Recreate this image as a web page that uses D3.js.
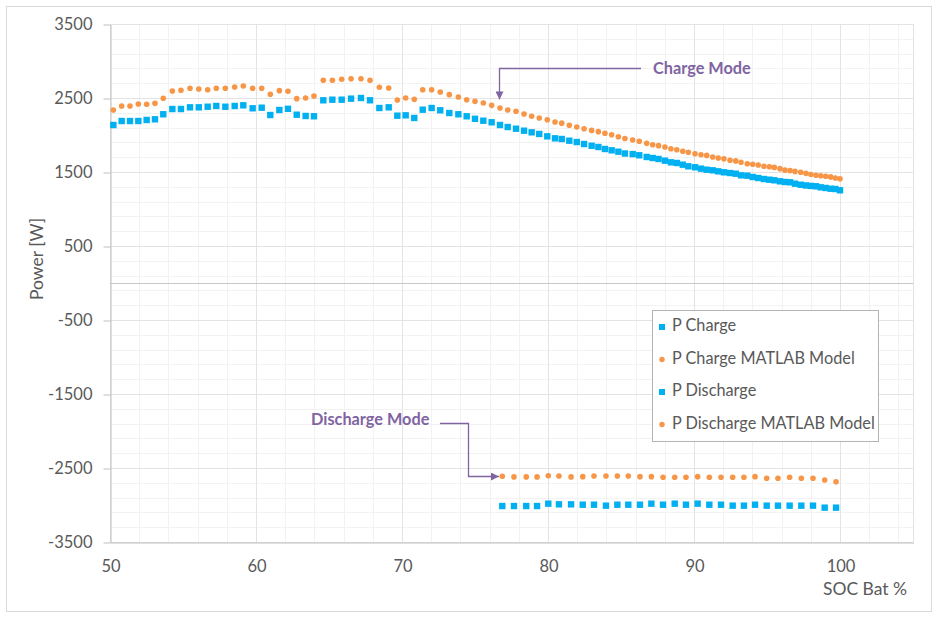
<!DOCTYPE html>
<html>
<head>
<meta charset="utf-8">
<script src="https://cdn.jsdelivr.net/npm/d3@7"></script>
<style>
  html, body { margin: 0; padding: 0; background: #ffffff; }
  svg { display: block; font-family: Lato, "Open Sans", sans-serif; }
</style>
</head>
<body>
<svg id="chart" width="937" height="617"></svg>
<script>
// ---------------- DATA ----------------
const socCharge = [50.23,50.80,51.37,51.94,52.51,53.08,53.65,54.27,54.86,55.48,
  56.08,56.69,57.28,57.90,58.54,59.13,59.77,60.39,60.98,61.60,
  62.19,62.79,63.40,63.97,64.61,65.23,65.87,66.51,67.19,67.81,
  68.45,69.09,69.68,70.25,70.84,71.42,72.03,72.62,73.24,73.86,
  74.43,75.00,75.57,76.14,76.71,77.24,77.81,78.36,78.88,79.40,
  79.95,80.48,80.94,81.46,81.97,82.47,82.99,83.45,83.90,84.36,
  84.82,85.27,85.80,86.25,86.76,87.17,87.57,88.01,88.42,88.82,
  89.23,89.61,90.07,90.48,90.87,91.28,91.66,92.05,92.47,92.86,
  93.22,93.65,94.02,94.40,94.79,95.16,95.50,95.89,96.23,96.58,
  96.92,97.31,97.67,98.01,98.36,98.68,99.02,99.36,99.68,100.0];

const pCharge = [2135,2189,2189,2189,2203,2212,2280,2351,2351,2374,
  2374,2382,2392,2382,2392,2401,2361,2369,2270,2338,
  2354,2274,2257,2253,2469,2477,2477,2491,2500,2469,
  2365,2374,2261,2266,2230,2342,2365,2334,2297,2280,
  2253,2219,2193,2172,2135,2108,2085,2058,2036,2014,
  1982,1955,1946,1923,1905,1878,1855,1838,1811,1793,
  1774,1750,1742,1726,1703,1689,1676,1653,1631,1622,
  1599,1577,1564,1545,1531,1523,1509,1496,1486,1477,
  1455,1450,1432,1419,1405,1396,1388,1374,1365,1361,
  1342,1328,1318,1312,1307,1293,1284,1274,1270,1253];

const pChargeModel = [2338,2392,2392,2419,2415,2428,2496,2595,2604,2631,
  2622,2612,2631,2631,2649,2662,2631,2631,2550,2599,
  2592,2491,2500,2527,2739,2739,2753,2761,2761,2739,
  2645,2635,2473,2500,2482,2612,2612,2581,2545,2514,
  2477,2455,2432,2401,2365,2338,2320,2284,2253,2230,
  2207,2175,2160,2131,2108,2085,2062,2045,2023,2004,
  1977,1952,1932,1915,1888,1869,1856,1838,1815,1801,
  1780,1766,1747,1734,1724,1703,1689,1678,1658,1650,
  1631,1610,1605,1595,1577,1570,1562,1545,1525,1518,
  1508,1496,1482,1466,1456,1450,1442,1434,1419,1409];

const socDischarge = [76.87,77.67,78.51,79.25,80.02,80.75,81.58,82.38,83.15,83.97,
  84.75,85.50,86.30,87.08,87.88,88.68,89.45,90.25,91.05,91.85,
  92.65,93.42,94.18,94.98,95.75,96.55,97.35,98.15,98.95,99.73];

const pDischarge = [-3014,-3014,-3014,-3014,-2982,-2991,-2991,-2996,-2996,-3009,
  -2996,-2996,-2996,-2982,-2996,-2982,-2996,-2982,-2996,-2996,
  -3009,-3009,-2996,-3009,-3009,-3009,-3009,-3009,-3036,-3036];

const pDischargeModel = [-2612,-2620,-2620,-2620,-2605,-2608,-2620,-2617,-2608,-2608,
  -2608,-2608,-2617,-2617,-2626,-2626,-2626,-2617,-2626,-2626,
  -2626,-2626,-2617,-2639,-2639,-2626,-2639,-2639,-2662,-2685];

const xTicks = [50, 60, 70, 80, 90, 100];
const yTicks = [-3500, -2500, -1500, -500, 500, 1500, 2500, 3500];
const seriesNames = ["P Charge", "P Charge MATLAB Model", "P Discharge", "P Discharge MATLAB Model"];
const seriesColors = ["#00B0F0", "#F79646", "#00B0F0", "#F79646"];
const seriesShapes = ["square", "circle", "square", "circle"];
const xTitle = "SOC Bat %";
const yTitle = "Power [W]";
const noteCharge = "Charge Mode";
const noteDischarge = "Discharge Mode";

// ---------------- LAYOUT ----------------
const W = 937, H = 617;
const plot = { left: 110, right: 913, top: 24, bottom: 542 };
const svg = d3.select("#chart");
const fmt = d => String(d);   // plain hyphen-minus like the reference

const x = d3.scaleLinear().domain([50, 105]).range([plot.left, plot.right]);
const y = d3.scaleLinear().domain([-3500, 3500]).range([plot.bottom, plot.top]);

// chart border
svg.append("rect")
  .attr("x", 6.5).attr("y", 6.5).attr("width", W - 12).attr("height", H - 12)
  .attr("fill", "#fff").attr("stroke", "#D9D9D9").attr("stroke-width", 1);

// minor gridlines
const g = svg.append("g");
const xMinor = d3.range(50, 105.001, 2);
const yMinor = d3.range(-3500, 3500.001, 200);
g.selectAll(".xminor").data(xMinor).join("line")
  .attr("x1", d => Math.round(x(d)) + 0.5).attr("x2", d => Math.round(x(d)) + 0.5)
  .attr("y1", plot.top).attr("y2", plot.bottom)
  .attr("stroke", "#F2F2F2").attr("stroke-width", 1);
g.selectAll(".yminor").data(yMinor).join("line")
  .attr("y1", d => Math.round(y(d)) + 0.5).attr("y2", d => Math.round(y(d)) + 0.5)
  .attr("x1", plot.left).attr("x2", plot.right)
  .attr("stroke", "#F2F2F2").attr("stroke-width", 1);
// right boundary line
g.append("line")
  .attr("x1", Math.round(x(105)) + 0.5).attr("x2", Math.round(x(105)) + 0.5)
  .attr("y1", plot.top).attr("y2", plot.bottom)
  .attr("stroke", "#E3E3E3");
// major gridlines
g.selectAll(".xmajor").data(d3.range(50, 105, 10)).join("line")
  .attr("x1", d => Math.round(x(d)) + 0.5).attr("x2", d => Math.round(x(d)) + 0.5)
  .attr("y1", plot.top).attr("y2", plot.bottom)
  .attr("stroke", "#E3E3E3").attr("stroke-width", 1);
g.selectAll(".ymajor").data(yTicks).join("line")
  .attr("y1", d => Math.round(y(d)) + 0.5).attr("y2", d => Math.round(y(d)) + 0.5)
  .attr("x1", plot.left).attr("x2", plot.right)
  .attr("stroke", "#E3E3E3").attr("stroke-width", 1);

// zero line
g.append("line")
  .attr("x1", plot.left).attr("x2", plot.right)
  .attr("y1", Math.round(y(0)) + 0.5).attr("y2", Math.round(y(0)) + 0.5)
  .attr("stroke", "#C8C8C8").attr("stroke-width", 1);

// Y axis
const yAxis = d3.axisLeft(y).tickValues(yTicks).tickSizeInner(7).tickSizeOuter(0).tickPadding(11)
  .tickFormat(fmt);
const ya = svg.append("g").attr("transform", `translate(${plot.left + 0.5},0.5)`).call(yAxis);
ya.select(".domain").attr("stroke", "#BFBFBF");
ya.selectAll(".tick line").attr("stroke", "#BFBFBF");
ya.selectAll(".tick text").attr("fill", "#595959").style("font-size", "16.5px").style("font-family", "Lato");

// X axis
const xAxis = d3.axisBottom(x).tickValues(xTicks).tickSize(0).tickPadding(18).tickFormat(fmt);
const xa = svg.append("g").attr("transform", `translate(0.5,${plot.bottom + 0.5})`).call(xAxis);
xa.select(".domain").attr("stroke", "#BFBFBF");
xa.selectAll(".tick text").attr("fill", "#595959").style("font-size", "16.5px").style("font-family", "Lato");

// Axis titles
svg.append("text")
  .attr("transform", `translate(39,${259}) rotate(-90)`)
  .attr("text-anchor", "middle").attr("dominant-baseline", "middle")
  .attr("fill", "#595959").style("font-size", "17.5px").text(yTitle);
svg.append("text")
  .attr("x", 865).attr("y", 591)
  .attr("text-anchor", "middle").attr("dominant-baseline", "middle")
  .attr("fill", "#595959").style("font-size", "17.5px").text(xTitle);

// ---------------- SERIES ----------------
const allSeries = [
  { soc: socCharge, p: pCharge },
  { soc: socCharge, p: pChargeModel },
  { soc: socDischarge, p: pDischarge },
  { soc: socDischarge, p: pDischargeModel }
];
const sqSize = 6.4, cR = 2.8;
allSeries.forEach((s, i) => {
  const pts = s.soc.map((v, k) => [v, s.p[k]]);
  const layer = svg.append("g");
  if (seriesShapes[i] === "square") {
    layer.selectAll("rect").data(pts).join("rect")
      .attr("x", d => x(d[0]) - sqSize / 2).attr("y", d => y(d[1]) - sqSize / 2)
      .attr("width", sqSize).attr("height", sqSize)
      .attr("fill", seriesColors[i]);
  } else {
    layer.selectAll("circle").data(pts).join("circle")
      .attr("cx", d => x(d[0])).attr("cy", d => y(d[1])).attr("r", cR)
      .attr("fill", seriesColors[i]);
  }
});

// ---------------- ANNOTATIONS ----------------
const purple = "#8064A2";
const defs = svg.append("defs");
defs.append("marker").attr("id", "arrow").attr("viewBox", "0 0 10 10")
  .attr("refX", 10).attr("refY", 5).attr("markerWidth", 8).attr("markerHeight", 8)
  .attr("markerUnits", "userSpaceOnUse").attr("orient", "auto")
  .append("path").attr("d", "M0,0 L10,5 L0,10 Z").attr("fill", purple);

// Charge Mode
svg.append("text").attr("x", 653).attr("y", 70).attr("dominant-baseline", "middle")
  .attr("fill", purple).style("font-weight", "bold").style("font-size", "16.3px").text(noteCharge);
const cx0 = Math.round(x(76.66)) + 0.5;
svg.append("path")
  .attr("d", `M641,68.5 H${cx0} V${y(2480)}`)
  .attr("fill", "none").attr("stroke", purple).attr("stroke-width", 1.3)
  .attr("marker-end", "url(#arrow)");

// Discharge Mode
svg.append("text").attr("x", 311).attr("y", 421).attr("dominant-baseline", "middle")
  .attr("fill", purple).style("font-weight", "bold").style("font-size", "16.3px").text(noteDischarge);
const dy0 = Math.round(y(-2610)) + 0.5;
svg.append("path")
  .attr("d", `M440,423.5 H468.5 V${dy0} H${x(76.64)}`)
  .attr("fill", "none").attr("stroke", purple).attr("stroke-width", 1.3)
  .attr("marker-end", "url(#arrow)");

// ---------------- LEGEND ----------------
const leg = svg.append("g");
leg.append("rect").attr("x", 652.5).attr("y", 310.5).attr("width", 226).attr("height", 131)
  .attr("fill", "#fff").attr("stroke", "#B4B4B4").attr("stroke-width", 1);
seriesNames.forEach((name, i) => {
  const cy = 327 + i * 32.5;
  if (seriesShapes[i] === "square") {
    leg.append("rect").attr("x", 662 - 3).attr("y", cy - 3).attr("width", 6).attr("height", 6)
      .attr("fill", seriesColors[i]);
  } else {
    leg.append("circle").attr("cx", 662).attr("cy", cy).attr("r", 2.7).attr("fill", seriesColors[i]);
  }
  leg.append("text").attr("x", 672).attr("y", cy).attr("dominant-baseline", "middle")
    .attr("fill", "#595959").style("font-size", "16.3px").text(name);
});
</script>
</body>
</html>
